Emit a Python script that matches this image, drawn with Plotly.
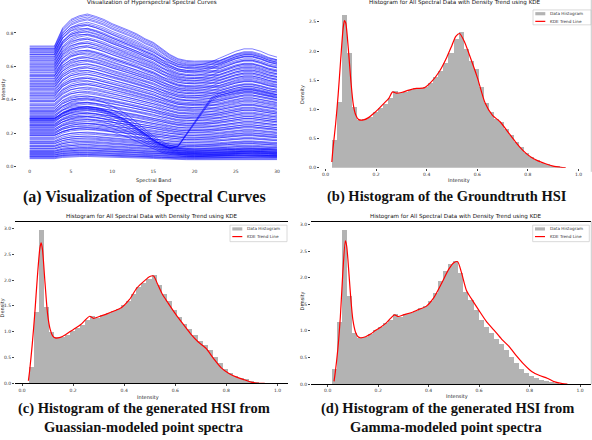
import numpy as np
import plotly.graph_objects as go

W, H = 592, 440

# ---------------- data: (a) spectral curves ----------------
bands = list(range(31))
# relative spectral shapes (value / value at band 0)
shape_bright = [1.0, 1.0, 1.0, 1.0, 1.15, 1.22, 1.25, 1.265, 1.245, 1.22,
                1.185, 1.16, 1.13, 1.10, 1.06, 1.03, 0.98, 0.93, 0.895, 0.88,
                0.875, 0.875, 0.875, 0.88, 0.905, 0.93, 0.945, 0.945, 0.925, 0.90, 0.885]
shape_bright2 = [1.0, 1.0, 1.0, 1.0, 1.12, 1.18, 1.20, 1.20, 1.18, 1.15,
                 1.12, 1.09, 1.06, 1.03, 1.00, 0.97, 0.93, 0.90, 0.87, 0.86,
                 0.86, 0.87, 0.89, 0.92, 0.95, 0.98, 1.00, 1.00, 0.98, 0.95, 0.93]
shape_dip = [1.0, 1.0, 1.0, 1.0, 1.10, 1.18, 1.22, 1.23, 1.21, 1.17,
             1.10, 1.02, 0.92, 0.80, 0.68, 0.56, 0.46, 0.39, 0.35, 0.33,
             0.32, 0.32, 0.32, 0.32, 0.33, 0.33, 0.34, 0.34, 0.33, 0.33, 0.32]
shape_rise = [1.0, 1.0, 1.0, 1.0, 1.10, 1.18, 1.22, 1.23, 1.21, 1.17,
              1.10, 1.02, 0.92, 0.80, 0.68, 0.56, 0.46, 0.39, 0.43, 0.67,
              0.92, 1.16, 1.41, 1.50, 1.53, 1.56, 1.60, 1.60, 1.56, 1.52, 1.48]
# intensity at band 0 of each curve
levels_bright = [0.722, 0.716, 0.708, 0.700, 0.694, 0.683, 0.675, 0.668, 0.655, 0.648,
                 0.640, 0.628, 0.621, 0.610, 0.603, 0.592, 0.585, 0.574, 0.566, 0.552,
                 0.545, 0.538, 0.525, 0.517, 0.506, 0.498, 0.487, 0.476, 0.468, 0.455,
                 0.447, 0.436, 0.425, 0.418, 0.405, 0.396, 0.388, 0.377, 0.366, 0.357,
                 0.346, 0.335, 0.327, 0.316, 0.305, 0.296, 0.284, 0.276, 0.265, 0.254,
                 0.246, 0.235, 0.224, 0.215, 0.204, 0.196, 0.185, 0.176, 0.164, 0.155,
                 0.146, 0.137, 0.128, 0.121, 0.113, 0.106, 0.098, 0.092, 0.086, 0.080,
                 0.075, 0.070, 0.064, 0.059, 0.054, 0.049]
levels_bright2 = [0.705, 0.688, 0.671, 0.659, 0.636, 0.615, 0.598, 0.579, 0.561, 0.543,
                  0.529, 0.511, 0.493, 0.480, 0.462, 0.441, 0.429, 0.411, 0.392, 0.371,
                  0.352, 0.339, 0.321, 0.301, 0.289, 0.270, 0.251, 0.239, 0.219, 0.201,
                  0.189, 0.170, 0.151, 0.140, 0.124, 0.109, 0.094, 0.083, 0.071, 0.061]
levels_dip = [0.330, 0.310, 0.290, 0.275, 0.260, 0.245, 0.228, 0.210, 0.190]
levels_rise = [0.292, 0.286, 0.280]

# ---------------- data: histograms ----------------
bin_width = 0.02
bins_b = np.round(0.036 + bin_width * np.arange(46), 3)
hist_b = [0.48, 1.13, 2.62, 1.97, 1.04, 0.82, 0.83, 0.88, 0.95, 1.03,
          1.10, 1.20, 1.32, 1.28, 1.30, 1.33, 1.36, 1.37, 1.38, 1.46,
          1.56, 1.66, 1.80, 1.97, 2.20, 2.32, 2.03, 1.83, 1.69, 1.38,
          1.12, 0.95, 0.84, 0.78, 0.67, 0.56, 0.44, 0.36, 0.26, 0.19,
          0.13, 0.09, 0.06, 0.03, 0.02, 0.01]
bins_c = np.round(0.037 + bin_width * np.arange(45), 3)
hist_c = [0.31, 1.37, 2.96, 1.46, 0.98, 0.88, 0.88, 0.93, 1.00, 1.07,
          1.13, 1.22, 1.30, 1.26, 1.31, 1.35, 1.40, 1.44, 1.50, 1.58,
          1.72, 1.85, 1.93, 2.02, 2.08, 1.90, 1.72, 1.58, 1.42, 1.28,
          1.15, 1.04, 0.92, 0.82, 0.74, 0.64, 0.50, 0.38, 0.27, 0.19,
          0.14, 0.10, 0.07, 0.03, 0.01]
bins_d = np.round(0.028 + bin_width * np.arange(45), 3)
hist_d = [0.27, 1.15, 2.89, 1.64, 0.95, 0.86, 0.88, 0.93, 1.00, 1.07,
          1.14, 1.20, 1.30, 1.26, 1.30, 1.33, 1.37, 1.42, 1.46, 1.55,
          1.70, 1.92, 2.12, 2.25, 2.30, 2.08, 1.72, 1.58, 1.38, 1.20,
          1.07, 0.95, 0.84, 0.74, 0.63, 0.50, 0.38, 0.28, 0.20, 0.15,
          0.11, 0.07, 0.04, 0.02, 0.01]

kde_x = [0.025, 0.03, 0.04, 0.05, 0.06, 0.07, 0.075, 0.08, 0.09, 0.10,
         0.11, 0.12, 0.13, 0.15, 0.17, 0.19, 0.21, 0.23, 0.25, 0.265,
         0.28, 0.30, 0.33, 0.36, 0.39, 0.42, 0.45, 0.48, 0.50, 0.515,
         0.53, 0.55, 0.57, 0.60, 0.63, 0.66, 0.69, 0.72, 0.75, 0.78,
         0.81, 0.84, 0.87, 0.90, 0.93, 0.95]
kde_b = [0.10, 0.35, 0.75, 1.25, 1.85, 2.40, 2.52, 2.48, 2.05, 1.50,
         1.08, 0.90, 0.83, 0.82, 0.86, 0.93, 1.01, 1.10, 1.19, 1.30,
         1.28, 1.29, 1.33, 1.36, 1.37, 1.48, 1.65, 1.90, 2.10, 2.25,
         2.30, 2.15, 1.92, 1.55, 1.12, 0.90, 0.79, 0.62, 0.45, 0.30,
         0.19, 0.12, 0.07, 0.03, 0.01, 0.0]
kde_c = [0.05, 0.25, 0.75, 1.35, 2.05, 2.62, 2.72, 2.60, 1.95, 1.35,
         1.05, 0.92, 0.88, 0.89, 0.94, 1.01, 1.07, 1.14, 1.24, 1.30,
         1.26, 1.29, 1.34, 1.40, 1.47, 1.62, 1.85, 1.99, 2.07, 2.08,
         1.93, 1.72, 1.57, 1.35, 1.15, 0.96, 0.80, 0.68, 0.48, 0.30,
         0.19, 0.12, 0.07, 0.02, 0.0, 0.0]
kde_d = [0.05, 0.22, 0.65, 1.25, 2.10, 2.69, 2.60, 2.35, 1.70, 1.20,
         0.98, 0.89, 0.87, 0.89, 0.94, 1.01, 1.07, 1.14, 1.24, 1.30,
         1.27, 1.30, 1.34, 1.40, 1.46, 1.62, 1.88, 2.16, 2.28, 2.30,
         2.10, 1.76, 1.60, 1.38, 1.17, 1.01, 0.84, 0.70, 0.52, 0.36,
         0.23, 0.16, 0.11, 0.04, 0.01, 0.0]

hist_ticks = [0.0, 0.2, 0.4, 0.6, 0.8, 1.0]

TICKFONT = dict(family="DejaVu Sans", size=4.5, color="#333333")
LEGFONT = dict(family="DejaVu Sans", size=4.2, color="#333333")
LABFONT = dict(family="DejaVu Sans", size=5, color="#222222")
TITLEFONT = dict(family="DejaVu Sans", size=5.6, color="#111111")
CAPFONT = dict(family="Liberation Serif", size=14.5, color="#111111")
BLUE = "rgba(0,0,255,0.5)"
GRAY = "#b3b3b3"
RED = "#ff0000"

fig = go.Figure()


def px(x):
    return x / W


def py(y):
    return 1 - y / H


def setup_axes(n, left, right, top, bottom, x0px, xscale, y0px, yscale, frame):
    # axes placed by pixel box; ranges follow from where 0 sits and px per unit
    xr = [(left - x0px) / xscale, (right - x0px) / xscale]
    yr = [(y0px - bottom) / yscale, (y0px - top) / yscale]
    sfx = "" if n == 1 else str(n)
    common = dict(showgrid=False, zeroline=False, ticks="outside", ticklen=2,
                  tickwidth=0.6, tickcolor="#444", tickfont=TICKFONT)
    fig.update_layout(**{
        "xaxis" + sfx: dict(domain=[px(left), px(right)], range=xr,
                            anchor="y" + sfx, showline=frame, mirror=frame,
                            linecolor="black", linewidth=1, **common),
        "yaxis" + sfx: dict(domain=[py(bottom), py(top)], range=yr,
                            anchor="x" + sfx, showline=False, **common),
    })


# ---- (a) curves ----
for shape, levels in [(shape_bright, levels_bright), (shape_bright2, levels_bright2),
                      (shape_dip, levels_dip), (shape_rise, levels_rise)]:
    for lv in levels:
        fig.add_trace(go.Scatter(x=bands, y=[lv * s for s in shape], mode="lines",
                                 line=dict(color=BLUE, width=1), hoverinfo="skip",
                                 xaxis="x", yaxis="y"))
setup_axes(1, 17.3, 289.4, 10, 168.6, 29.7, 8.243, 168, 168.5, False)
fig.update_layout(xaxis=dict(tickvals=[0, 5, 10, 15, 20, 25, 30], ticks=""),
                  yaxis=dict(tickvals=[0.0, 0.2, 0.4, 0.6, 0.8], tickformat=".1f"))

# ---- histograms ----
panels = [
    (2, bins_b, hist_b, kde_b, (320, 591, 8, 169, 325.5, 253, 169, 58.8, False)),
    (3, bins_c, hist_c, kde_c, (15, 288, 224, 386, 22, 255.5, 386, 52.0, True)),
    (4, bins_d, hist_d, kde_d, (311, 591, 224, 386.7, 327.7, 252.3, 386.7, 53.57, True)),
]
for n, bins, hist, kde, box in panels:
    fig.add_trace(go.Bar(x=bins, y=hist, width=bin_width, marker=dict(color=GRAY, line=dict(width=0)),
                         xaxis="x%d" % n, yaxis="y%d" % n, hoverinfo="skip"))
    fig.add_trace(go.Scatter(x=kde_x, y=kde, mode="lines",
                             line=dict(color=RED, width=1.2, shape="spline", smoothing=0.7),
                             xaxis="x%d" % n, yaxis="y%d" % n, hoverinfo="skip"))
    setup_axes(n, *box)
    fig.update_layout(**{
        "xaxis%d" % n: dict(tickvals=hist_ticks, tickformat=".1f"),
        "yaxis%d" % n: dict(dtick=0.5, tick0=0, tickformat=".1f"),
    })

# ---- texts ----
ann = []


def text(x, y, s, font, angle=0, xanchor="center"):
    ann.append(dict(x=px(x), y=py(y), xref="paper", yref="paper", text=s, showarrow=False,
                    font=font, textangle=angle, xanchor=xanchor, yanchor="middle"))


hist_title = "Histogram for All Spectral Data with Density Trend using KDE"
text(152, 3, "Visualization of Hyperspectral Spectral Curves", TITLEFONT)
text(455, 3, hist_title, TITLEFONT)
text(152, 218, hist_title, TITLEFONT)
text(456, 218, hist_title, TITLEFONT)

text(153, 181.5, "Spectral Band", LABFONT)
text(3, 90, "Intensity", LABFONT, -90)
text(459, 181.5, "Intensity", LABFONT)
text(302.7, 95, "Density", LABFONT, -90)
text(148, 400, "Intensity", LABFONT)
text(2.5, 310, "Density", LABFONT, -90)
text(457, 399, "Intensity", LABFONT)
text(302.5, 303, "Density", LABFONT, -90)

text(144, 198, "<b>(a) Visualization of Spectral Curves</b>", dict(CAPFONT, size=16))
text(447, 198, "<b>(b) Histogram of the Groundtruth HSI</b>", CAPFONT)
text(144, 411.5, "<b>(c) Histogram of the generated HSI from</b>", CAPFONT)
text(144, 430, "<b>Guassian-modeled point spectra</b>", CAPFONT)
text(447.5, 411.5, "<b>(d) Histogram of the generated HSI from</b>", CAPFONT)
text(446, 430, "<b>Gamma-modeled point spectra</b>", CAPFONT)

# ---- hand-made legends ----
shapes = []
for (bx0, by0, bx1, by1) in [(533, 10, 591, 25), (230, 226.7, 287, 243.3), (532.7, 226.7, 589.3, 243.3)]:
    shapes.append(dict(type="rect", xref="paper", yref="paper", x0=px(bx0), x1=px(bx1),
                       y0=py(by1), y1=py(by0), line=dict(color="#d0d0d0", width=0.8),
                       fillcolor="white", layer="above"))
    yh = by0 + 3.8
    yk = by0 + 11.5
    shapes.append(dict(type="rect", xref="paper", yref="paper", x0=px(bx0 + 2.3), x1=px(bx0 + 12.3),
                       y0=py(yh + 1.6), y1=py(yh - 1.6), line=dict(width=0), fillcolor=GRAY, layer="above"))
    shapes.append(dict(type="line", xref="paper", yref="paper", x0=px(bx0 + 2.3), x1=px(bx0 + 12.3),
                       y0=py(yk), y1=py(yk), line=dict(color=RED, width=1.2), layer="above"))
    text(bx0 + 15, yh, "Data Histogram", LEGFONT, xanchor="left")
    text(bx0 + 15, yk, "KDE Trend Line", LEGFONT, xanchor="left")

# thin frame line at the right border of the page
for (y0, y1) in [(0, 173), (223, 387)]:
    shapes.append(dict(type="line", xref="paper", yref="paper", x0=px(591.3), x1=px(591.3),
                       y0=py(y1), y1=py(y0), line=dict(color="#bbbbbb", width=0.8)))

fig.update_layout(width=W, height=H, margin=dict(l=0, r=0, t=0, b=0),
                  paper_bgcolor="white", plot_bgcolor="white", showlegend=False,
                  bargap=0, annotations=ann, shapes=shapes)

fig.write_html("out.html", config={"displayModeBar": False},
               post_script="document.body.style.margin='0px';")
